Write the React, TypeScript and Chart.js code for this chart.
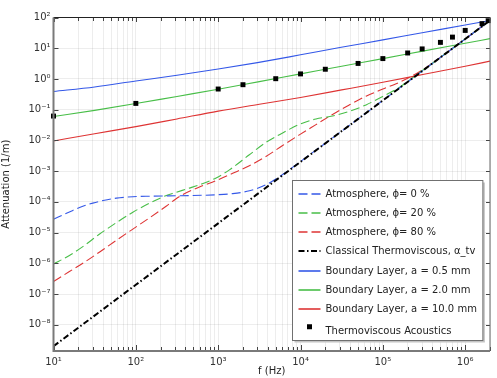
import { useEffect, useRef } from "react";
import { Chart, registerables } from "chart.js";

Chart.register(...registerables);

// ---------- data ----------
const atm0F = [10, 15.6, 22.7, 30, 40, 58, 92, 146, 256, 447, 944, 1500, 2400, 3800, 6000, 8000, 1e4, 2e4, 5e4, 1e5, 3e5, 1e6, 2e6];
const atm0A = [2.74e-5, 4.7e-5, 7.2e-5, 9.1e-5, 1.1e-4, 1.32e-4, 1.47e-4, 1.53e-4, 1.57e-4, 1.6e-4, 1.7e-4, 1.85e-4, 2.3e-4, 3.6e-4, 7.6e-4, 1.32e-3, 2.05e-3, 8.1e-3, 0.05, 0.2, 1.8, 20, 80];

const atm20F = [10, 15.6, 22.7, 36, 58, 92, 146, 222, 300, 447, 643, 944, 1370, 2390, 3800, 6060, 9660, 15400, 24500, 39100, 62400, 1e5, 1.6e5, 2.5e5, 4e5, 1e6, 2e6];
const atm20A = [9.5e-7, 1.8e-6, 3.5e-6, 8.8e-6, 2.1e-5, 4.6e-5, 9.0e-5, 1.52e-4, 2.0e-4, 2.8e-4, 3.9e-4, 6.0e-4, 1.1e-3, 3.4e-3, 8.6e-3, 0.0175, 0.033, 0.05, 0.062, 0.088, 0.143, 0.27, 0.54, 1.3, 3.25, 20.2, 80];

const atm80F = [10, 15.6, 22.7, 36, 58, 92, 146, 233, 300, 371, 592, 944, 1500, 2390, 3800, 6060, 9660, 15400, 24500, 39100, 62400, 1e5, 1.45e5, 2.5e5, 3.5e5, 1e6, 2e6];
const atm80A = [2.55e-7, 5.4e-7, 1.0e-6, 2.3e-6, 5.6e-6, 1.3e-5, 3.0e-5, 7.2e-5, 1.2e-4, 1.72e-4, 3.05e-4, 4.9e-4, 8.5e-4, 1.5e-3, 3.0e-3, 6.8e-3, 0.0151, 0.0326, 0.07, 0.143, 0.275, 0.47, 0.7, 1.45, 2.55, 20.2, 80];

const tvF = [10, 100, 1e3, 1e4, 1e5, 1e6, 2e6];
const tvA = [2.0e-9, 2.0e-7, 2.0e-5, 2.0e-3, 0.2, 20, 80];

const bl05F = [10, 31.6, 100, 316, 1e3, 3e3, 1e4, 3e4, 1e5, 3e5, 1e6, 2e6];
const bl05A = [0.39, 0.55, 0.86, 1.32, 2.1, 3.4, 6.1, 10.5, 18.7, 32, 57, 80];

const bl20F = [10, 31.6, 100, 316, 1e3, 3.16e3, 1e4, 3.16e4, 1e5, 3.16e5, 1e6, 2e6];
const bl20A = [0.06, 0.095, 0.158, 0.27, 0.46, 0.82, 1.46, 2.6, 4.6, 8.2, 14.5, 20.5];

const bl100F = [10, 31.6, 100, 316, 1e3, 3.16e3, 1e4, 3.16e4, 1e5, 3.16e5, 1e6, 2e6];
const bl100A = [0.0096, 0.0165, 0.028, 0.05, 0.09, 0.15, 0.25, 0.44, 0.78, 1.42, 2.6, 3.8];

const tvaF = [10, 100, 1000, 2000, 5000, 1e4, 2e4, 5e4, 1e5, 2e5, 3e5, 5e5, 7e5, 1e6, 1.6e6, 1.9e6];
const tvaA = [0.062, 0.16, 0.47, 0.65, 1.02, 1.46, 2.07, 3.2, 4.6, 7.0, 9.5, 15.5, 23, 38, 63, 79];

const seriesLabels = [
  "Atmosphere, \u03d5= 0 %",
  "Atmosphere, \u03d5= 20 %",
  "Atmosphere, \u03d5= 80 %",
  "Classical Thermoviscous, \u03b1_tv",
  "Boundary Layer, a = 0.5 mm",
  "Boundary Layer, a = 2.0 mm",
  "Boundary Layer, a = 10.0 mm",
  "Thermoviscous Acoustics",
];

const xMajorTicks = [10, 100, 1e3, 1e4, 1e5, 1e6];
const xTickLabels = ["10\u00b9", "10\u00b2", "10\u00b3", "10\u2074", "10\u2075", "10\u2076"];
const yMajorTicks = [1e-8, 1e-7, 1e-6, 1e-5, 1e-4, 1e-3, 1e-2, 1e-1, 1, 10, 100];
const yTickLabels = [
  "10\u207b\u2078", "10\u207b\u2077", "10\u207b\u2076", "10\u207b\u2075", "10\u207b\u2074",
  "10\u207b\u00b3", "10\u207b\u00b2", "10\u207b\u00b9", "10\u2070", "10\u00b9", "10\u00b2",
];
const xMin = 10;
const xMax = 2e6;
const yMin = 1.4e-9;
const yMax = 100;

// ---------- styling ----------
const BLUE = "rgb(52, 88, 232)";
const GREEN = "rgb(72, 190, 72)";
const RED = "rgb(222, 52, 52)";
const FONT = "DejaVu Sans";

const pts = (xs: number[], ys: number[]) => xs.map((x, i) => ({ x, y: ys[i] }));

const closeTo = (a: number, b: number) => Math.abs(a / b - 1) < 1e-6;

function buildXTicks() {
  const out: { value: number; major: boolean }[] = [];
  for (const m of xMajorTicks) {
    for (let k = 1; k <= 9; k++) {
      const v = m * k;
      if (v >= xMin * 0.999999 && v <= xMax * 1.000001) out.push({ value: v, major: k === 1 });
    }
  }
  return out;
}

const framePlugin = {
  id: "frameAndLegend",
  afterDraw(chart: any) {
    const { ctx, chartArea } = chart;
    const { left, right, top, bottom } = chartArea;
    const xs = chart.scales.x;
    const ys = chart.scales.y;
    ctx.save();
    // inward tick marks
    ctx.lineWidth = 1;
    ctx.strokeStyle = "#444";
    ctx.beginPath();
    for (const t of xs.ticks) {
      const px = Math.round(xs.getPixelForValue(t.value)) + 0.5;
      const major = xMajorTicks.some((m) => closeTo(m, t.value));
      const lb = major ? 6 : 4;
      const lt = major ? 4.5 : 3.5;
      ctx.moveTo(px, bottom);
      ctx.lineTo(px, bottom - lb);
      ctx.moveTo(px, top);
      ctx.lineTo(px, top + lt);
    }
    for (const t of ys.ticks) {
      const py = Math.round(ys.getPixelForValue(t.value)) + 0.5;
      ctx.moveTo(left, py);
      ctx.lineTo(left + 5, py);
      ctx.moveTo(right, py);
      ctx.lineTo(right - 4, py);
    }
    ctx.stroke();
    // frame
    ctx.strokeStyle = "#222";
    ctx.lineWidth = 1.2;
    ctx.beginPath();
    ctx.moveTo(left, top);
    ctx.lineTo(right, top);
    ctx.stroke();
    ctx.strokeStyle = "#666";
    ctx.lineWidth = 1;
    ctx.beginPath();
    ctx.moveTo(right, top);
    ctx.lineTo(right, bottom);
    ctx.stroke();
    ctx.strokeStyle = "#7a7a7a";
    ctx.lineWidth = 2;
    ctx.beginPath();
    ctx.moveTo(left, top);
    ctx.lineTo(left, bottom);
    ctx.lineTo(right, bottom);
    ctx.stroke();

    // legend
    ctx.font = `10px "${FONT}"`;
    const sets = chart.data.datasets;
    let maxW = 0;
    for (const d of sets) maxW = Math.max(maxW, ctx.measureText(d.label).width);
    const bw = 33 + maxW + 6;
    const bh = 160;
    const bx = Math.round(right - 8 - bw) + 0.5;
    const by = Math.round(bottom - 11 - bh) + 0.5;
    ctx.fillStyle = "#c4c4c4";
    ctx.fillRect(bx + 2, by + 2, bw, bh);
    ctx.fillStyle = "#ffffff";
    ctx.fillRect(bx, by, bw, bh);
    ctx.strokeStyle = "#707070";
    ctx.lineWidth = 1;
    ctx.strokeRect(bx, by, bw, bh);
    ctx.textBaseline = "middle";
    ctx.textAlign = "left";
    sets.forEach((d: any, i: number) => {
      const isPts = d.showLine === false;
      const cy = by + 13 + i * 19.25 + (isPts ? 2.5 : 0);
      if (isPts) {
        ctx.fillStyle = d.backgroundColor;
        ctx.fillRect(bx + 14.5, cy - 6.5, 5, 5);
      } else {
        ctx.save();
        ctx.strokeStyle = d.borderColor;
        ctx.lineWidth = Math.max(1.6, d.borderWidth);
        ctx.setLineDash(d.borderDash || []);
        ctx.beginPath();
        ctx.moveTo(bx + 6, Math.round(cy));
        ctx.lineTo(bx + 28, Math.round(cy));
        ctx.stroke();
        ctx.restore();
      }
      ctx.fillStyle = "#222";
      ctx.fillText(d.label, bx + 33, cy + 0.5);
    });
    ctx.restore();
  },
};

export default function App() {
  const ref = useRef<HTMLCanvasElement>(null);
  useEffect(() => {
    const line = (label: string, xs: number[], ys: number[], color: string, dash: number[], order: number, width = 1) => ({
      label,
      data: pts(xs, ys),
      borderColor: color,
      backgroundColor: color,
      borderWidth: width,
      borderDash: dash,
      pointRadius: 0,
      cubicInterpolationMode: "monotone" as const,
      fill: false,
      order,
    });
    const chart = new Chart(ref.current as HTMLCanvasElement, {
      type: "line",
      data: {
        datasets: [
          line(seriesLabels[0], atm0F, atm0A, BLUE, [9, 4], 4, 1.1),
          line(seriesLabels[1], atm20F, atm20A, GREEN, [9, 4], 4, 1.1),
          line(seriesLabels[2], atm80F, atm80A, RED, [9, 4], 4, 1.1),
          line(seriesLabels[3], tvF, tvA, "#000000", [6, 2.5, 1.5, 2.5], 2, 2),
          line(seriesLabels[4], bl05F, bl05A, BLUE, [], 3, 1.1),
          line(seriesLabels[5], bl20F, bl20A, GREEN, [], 3, 1.1),
          line(seriesLabels[6], bl100F, bl100A, RED, [], 3, 1.1),
          {
            label: seriesLabels[7],
            data: pts(tvaF, tvaA),
            showLine: false,
            pointStyle: "rect",
            pointRadius: 3.5,
            pointBorderWidth: 0,
            borderWidth: 0,
            backgroundColor: "#000000",
            borderColor: "#000000",
            clip: false,
            order: 0,
          } as any,
        ],
      },
      options: {
        animation: false,
        responsive: true,
        maintainAspectRatio: false,
        layout: { padding: { left: 0, right: 7, top: 17.5, bottom: 0 } },
        plugins: {
          legend: { display: false },
          tooltip: { enabled: false },
        },
        scales: {
          x: {
            type: "logarithmic",
            min: xMin,
            max: xMax,
            afterBuildTicks: (s: any) => {
              s.ticks = buildXTicks();
            },
            afterFit: (s: any) => {
              s.height = 27;
            },
            ticks: {
              autoSkip: false,
              maxRotation: 0,
              minRotation: 0,
              padding: 5,
              color: "#333",
              font: { family: FONT, size: 10 },
              callback: (v: any) => {
                const i = xMajorTicks.findIndex((m) => closeTo(m, Number(v)));
                return i >= 0 ? xTickLabels[i] : "";
              },
            },
            grid: { color: "rgba(0,0,0,0.07)", drawTicks: false, lineWidth: 1 },
            border: { display: false },
            title: {
              display: true,
              text: "f (Hz)",
              color: "#222",
              font: { family: FONT, size: 10 },
              padding: { top: 0, bottom: 1 },
            },
          },
          y: {
            type: "logarithmic",
            min: yMin,
            max: yMax,
            afterBuildTicks: (s: any) => {
              s.ticks = yMajorTicks.map((v) => ({ value: v, major: true }));
            },
            afterFit: (s: any) => {
              s.width = 53.5;
            },
            ticks: {
              autoSkip: false,
              padding: 3,
              color: "#333",
              font: { family: FONT, size: 10 },
              callback: (v: any) => {
                const i = yMajorTicks.findIndex((m) => closeTo(m, Number(v)));
                return i >= 0 ? yTickLabels[i] : "";
              },
            },
            grid: { color: "rgba(0,0,0,0.07)", drawTicks: false, lineWidth: 1 },
            border: { display: false },
            title: {
              display: true,
              text: "Attenuation (1/m)",
              color: "#222",
              font: { family: FONT, size: 10 },
              padding: { top: 0, bottom: 0 },
            },
          },
        },
      },
      plugins: [framePlugin],
    });
    return () => chart.destroy();
  }, []);
  return (
    <div style={{ position: "fixed", left: 0, top: 0, width: 497, height: 378, background: "#fff" }}>
      <canvas ref={ref} />
    </div>
  );
}
